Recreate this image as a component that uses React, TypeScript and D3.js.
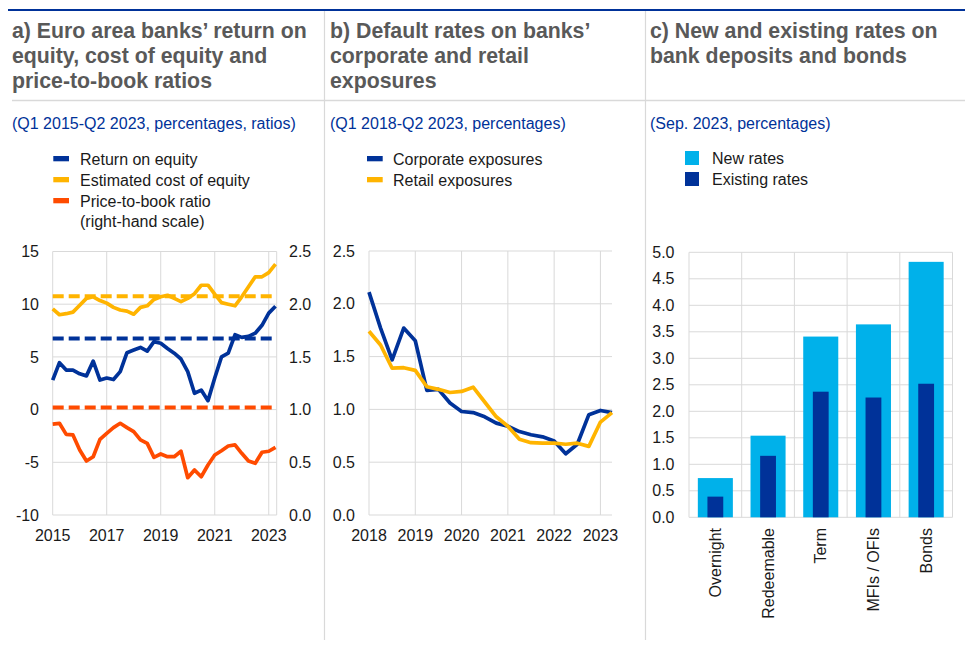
import React from "react";
import * as d3 from "d3";

// ---------- Data ----------
// Panel a: quarterly Q1 2015 - Q2 2023
const roe = [2.8, 4.45, 3.75, 3.75, 3.4, 3.2, 4.6, 2.8, 3.0, 2.85, 3.6, 5.4, 5.65, 5.9, 5.55, 6.45, 6.3, 5.8, 5.35, 4.8, 3.6, 1.55, 1.85, 0.85, 3.0, 5.0, 5.35, 7.1, 6.85, 6.95, 7.25, 8.0, 9.15, 9.8];
const costOfEquity = [9.55, 9.0, 9.1, 9.25, 9.9, 10.55, 10.7, 10.35, 10.1, 9.7, 9.45, 9.35, 9.05, 9.7, 9.85, 10.45, 10.7, 10.85, 10.55, 10.25, 10.55, 11.0, 11.8, 11.8, 10.95, 10.15, 10.0, 9.85, 10.7, 11.65, 12.6, 12.6, 13.0, 13.8];
const priceToBook = [0.863, 0.87, 0.765, 0.76, 0.617, 0.512, 0.553, 0.718, 0.775, 0.829, 0.87, 0.829, 0.791, 0.712, 0.68, 0.547, 0.579, 0.553, 0.553, 0.605, 0.354, 0.427, 0.363, 0.474, 0.569, 0.61, 0.655, 0.665, 0.585, 0.512, 0.49, 0.595, 0.605, 0.642];
const roeAverage = 6.75;
const coeAverage = 10.75;
const ptbAverage = 1.02;
const aLeftTicks = [-10, -5, 0, 5, 10, 15];
const aRightTicks = [0.0, 0.5, 1.0, 1.5, 2.0, 2.5];
const aYearTicks = [2015, 2017, 2019, 2021, 2023];

// Panel b: quarterly Q1 2018 - Q2 2023
const corporate = [2.11, 1.77, 1.47, 1.77, 1.65, 1.18, 1.19, 1.06, 0.98, 0.97, 0.93, 0.87, 0.84, 0.79, 0.76, 0.74, 0.7, 0.58, 0.67, 0.95, 0.99, 0.97];
const retail = [1.74, 1.61, 1.39, 1.395, 1.37, 1.215, 1.19, 1.16, 1.17, 1.21, 1.07, 0.93, 0.84, 0.717, 0.685, 0.68, 0.68, 0.67, 0.68, 0.65, 0.88, 0.97];
const bTicks = [0.0, 0.5, 1.0, 1.5, 2.0, 2.5];
const bYearTicks = [2018, 2019, 2020, 2021, 2022, 2023];

// Panel c
const cCategories = ["Overnight", "Redeemable", "Term", "MFIs / OFIs", "Bonds"];
const newRates = [0.74, 1.54, 3.41, 3.64, 4.82];
const existingRates = [0.39, 1.16, 2.37, 2.26, 2.52];
const cTicks = [0.0, 0.5, 1.0, 1.5, 2.0, 2.5, 3.0, 3.5, 4.0, 4.5, 5.0];

// ---------- Style ----------
const DARK_BLUE = "#003299";
const YELLOW = "#ffb400";
const ORANGE = "#ff4b00";
const LIGHT_BLUE = "#00b1ea";
const GRID = "#d9d9d9";
const FONT = "Arial, 'Liberation Sans', Helvetica, sans-serif";
const TITLE_COLOR = "#595959";
const TEXT = "#1a1a1a";

const quarterDates = (start: number, n: number) => d3.range(n).map((i) => start + i * 0.25);

export default function App() {
  // Panel a scales
  const xA = d3.scaleLinear().domain([2015, 2023.25]).range([52.7, 275.5]);
  const yA = d3.scaleLinear().domain([-10, 15]).range([515, 251.5]);
  const yA2 = d3.scaleLinear().domain([0, 2.5]).range([515, 251.5]);
  const aRight = 276.7;
  const datesA = quarterDates(2015, roe.length);
  const lineA = d3.line<number>().x((_, i) => xA(datesA[i])).y((d) => yA(d));
  const lineA2 = d3.line<number>().x((_, i) => xA(datesA[i])).y((d) => yA2(d));

  // Panel b scales
  const xB = d3.scaleLinear().domain([2018, 2023.25]).range([369, 612]);
  const yB = d3.scaleLinear().domain([0, 2.5]).range([515, 251]);
  const datesB = quarterDates(2018, corporate.length);
  const lineB = d3.line<number>().x((_, i) => xB(datesB[i])).y((d) => yB(d));

  // Panel c scales
  const xC = d3.scaleBand<string>().domain(cCategories).range([689, 952.5]).paddingInner(0).paddingOuter(0);
  const yC = d3.scaleLinear().domain([0, 5]).range([517.3, 252.3]);
  const bw = xC.bandwidth();
  const outerW = bw * 0.665;
  const innerW = bw * 0.3;

  const tickStyle = { fontFamily: FONT, fontSize: 16, fill: TEXT } as const;

  const titleBlock = (x: number, lines: string[], sub: string) => (
    <g>
      {lines.map((l, i) => (
        <text key={i} x={x} y={38 + i * 25} fontFamily={FONT} fontSize={21.3} fontWeight="bold" fill={TITLE_COLOR}>
          {l}
        </text>
      ))}
      <text x={x} y={129} fontFamily={FONT} fontSize={16} fill={DARK_BLUE}>
        {sub}
      </text>
    </g>
  );

  return (
    <svg width={965} height={646} style={{ position: "absolute", left: 0, top: 0, background: "#fff" }}>
      {/* frame */}
      <line x1={8} x2={965} y1={10} y2={10} stroke={DARK_BLUE} strokeWidth={1.8} />
      <line x1={12} x2={965} y1={100.5} y2={100.5} stroke={GRID} strokeWidth={1.5} />
      <line x1={324.5} x2={324.5} y1={11} y2={640} stroke={GRID} strokeWidth={1.2} />
      <line x1={645.5} x2={645.5} y1={11} y2={640} stroke={GRID} strokeWidth={1.2} />

      {titleBlock(12, ["a) Euro area banks’ return on", "equity, cost of equity and", "price-to-book ratios"], "(Q1 2015-Q2 2023, percentages, ratios)")}
      {titleBlock(330, ["b) Default rates on banks’", "corporate and retail", "exposures"], "(Q1 2018-Q2 2023, percentages)")}
      {titleBlock(650, ["c) New and existing rates on", "bank deposits and bonds"], "(Sep. 2023, percentages)")}

      {/* ---------- Panel a ---------- */}
      <g>
        {[
          { c: DARK_BLUE, t: ["Return on equity"] },
          { c: YELLOW, t: ["Estimated cost of equity"] },
          { c: ORANGE, t: ["Price-to-book ratio", "(right-hand scale)"] },
        ].map((d, i) => (
          <g key={i}>
            <rect x={53.3} y={156 + i * 21} width={15.7} height={5.3} fill={d.c} />
            {d.t.map((t, j) => (
              <text key={j} x={80} y={164.5 + i * 21 + j * 20} {...tickStyle}>
                {t}
              </text>
            ))}
          </g>
        ))}
        {aLeftTicks.map((t) => (
          <line key={t} x1={xA(2015)} x2={aRight} y1={yA(t)} y2={yA(t)} stroke={GRID} strokeWidth={1} />
        ))}
        {aYearTicks.map((t) => (
          <line key={t} x1={xA(t)} x2={xA(t)} y1={yA(15)} y2={yA(-10)} stroke={GRID} strokeWidth={1} />
        ))}
        <line x1={aRight} x2={aRight} y1={yA(15)} y2={yA(-10)} stroke={GRID} strokeWidth={1} />
        {aLeftTicks.map((t) => (
          <text key={t} x={39} y={yA(t)} dy="0.35em" textAnchor="end" {...tickStyle}>
            {t}
          </text>
        ))}
        {aRightTicks.map((t) => (
          <text key={t} x={289} y={yA2(t)} dy="0.35em" textAnchor="start" {...tickStyle}>
            {t.toFixed(1)}
          </text>
        ))}
        {aYearTicks.map((t) => (
          <text key={t} x={xA(t)} y={541} textAnchor="middle" {...tickStyle}>
            {t}
          </text>
        ))}
        <line x1={xA(2015)} x2={aRight} y1={yA(coeAverage)} y2={yA(coeAverage)} stroke={YELLOW} strokeWidth={4} strokeDasharray="11,5" />
        <line x1={xA(2015)} x2={aRight} y1={yA(roeAverage)} y2={yA(roeAverage)} stroke={DARK_BLUE} strokeWidth={4} strokeDasharray="11,5" />
        <line x1={xA(2015)} x2={aRight} y1={yA2(ptbAverage)} y2={yA2(ptbAverage)} stroke={ORANGE} strokeWidth={4} strokeDasharray="11,5" />
        <path d={lineA(costOfEquity) || ""} fill="none" stroke={YELLOW} strokeWidth={3.7} strokeLinejoin="round" />
        <path d={lineA(roe) || ""} fill="none" stroke={DARK_BLUE} strokeWidth={3.7} strokeLinejoin="round" />
        <path d={lineA2(priceToBook) || ""} fill="none" stroke={ORANGE} strokeWidth={3.7} strokeLinejoin="round" />
      </g>

      {/* ---------- Panel b ---------- */}
      <g>
        {[
          { c: DARK_BLUE, t: "Corporate exposures" },
          { c: YELLOW, t: "Retail exposures" },
        ].map((d, i) => (
          <g key={i}>
            <rect x={367} y={156 + i * 21} width={15.7} height={5.3} fill={d.c} />
            <text x={393} y={164.5 + i * 21} {...tickStyle}>
              {d.t}
            </text>
          </g>
        ))}
        {bTicks.map((t) => (
          <line key={t} x1={xB(2018)} x2={xB(2023.25)} y1={yB(t)} y2={yB(t)} stroke={GRID} strokeWidth={1} />
        ))}
        {bYearTicks.map((t) => (
          <line key={t} x1={xB(t)} x2={xB(t)} y1={yB(2.5)} y2={yB(0)} stroke={GRID} strokeWidth={1} />
        ))}
        {bTicks.map((t) => (
          <text key={t} x={355} y={yB(t)} dy="0.35em" textAnchor="end" {...tickStyle}>
            {t.toFixed(1)}
          </text>
        ))}
        {bYearTicks.map((t) => (
          <text key={t} x={xB(t)} y={541} textAnchor="middle" {...tickStyle}>
            {t}
          </text>
        ))}
        <path d={lineB(corporate) || ""} fill="none" stroke={DARK_BLUE} strokeWidth={3.7} strokeLinejoin="round" />
        <path d={lineB(retail) || ""} fill="none" stroke={YELLOW} strokeWidth={3.7} strokeLinejoin="round" />
      </g>

      {/* ---------- Panel c ---------- */}
      <g>
        {[
          { c: LIGHT_BLUE, t: "New rates" },
          { c: DARK_BLUE, t: "Existing rates" },
        ].map((d, i) => (
          <g key={i}>
            <rect x={685} y={151 + i * 21} width={14} height={14} fill={d.c} />
            <text x={712} y={164 + i * 21} {...tickStyle}>
              {d.t}
            </text>
          </g>
        ))}
        {cTicks.map((t) => (
          <line key={t} x1={689} x2={952.5} y1={yC(t)} y2={yC(t)} stroke={GRID} strokeWidth={1} />
        ))}
        {cCategories.map((c) => (
          <line key={c} x1={xC(c)!} x2={xC(c)!} y1={yC(5)} y2={yC(0)} stroke={GRID} strokeWidth={1} />
        ))}
        <line x1={952.5} x2={952.5} y1={yC(5)} y2={yC(0)} stroke={GRID} strokeWidth={1} />
        {cTicks.map((t) => (
          <text key={t} x={674.5} y={yC(t)} dy="0.35em" textAnchor="end" {...tickStyle}>
            {t.toFixed(1)}
          </text>
        ))}
        {cCategories.map((c, i) => {
          const cx = xC(c)! + bw / 2;
          return (
            <g key={c}>
              <rect x={cx - outerW / 2} y={yC(newRates[i])} width={outerW} height={yC(0) - yC(newRates[i])} fill={LIGHT_BLUE} />
              <rect x={cx - innerW / 2} y={yC(existingRates[i])} width={innerW} height={yC(0) - yC(existingRates[i])} fill={DARK_BLUE} />
              <text transform={`translate(${cx},${528}) rotate(-90)`} dy="0.35em" textAnchor="end" {...tickStyle}>
                {c}
              </text>
            </g>
          );
        })}
      </g>
    </svg>
  );
}
